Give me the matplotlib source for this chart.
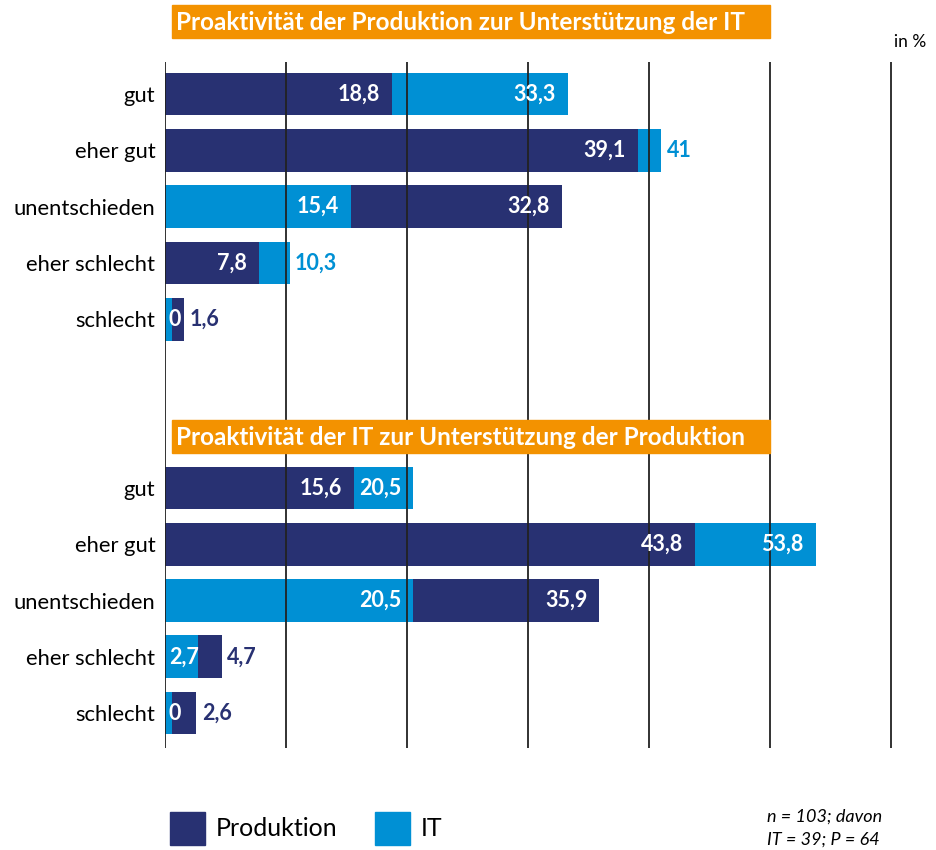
import matplotlib.pyplot as plt
from matplotlib.patches import Rectangle

# Schrift: Lato als Ersatz fuer Calibri
plt.rcParams['font.family'] = ['Lato', 'DejaVu Sans']

# Daten (in %)
kategorien = ['gut', 'eher gut', 'unentschieden', 'eher schlecht', 'schlecht']
prod_oben = [18.8, 39.1, 32.8, 7.8, 1.6]
it_oben = [33.3, 41.0, 15.4, 10.3, 0.0]
prod_unten = [15.6, 43.8, 35.9, 4.7, 2.6]
it_unten = [20.5, 53.8, 20.5, 2.7, 0.0]

titel_oben = 'Proaktivität der Produktion zur Unterstützung der IT'
titel_unten = 'Proaktivität der IT zur Unterstützung der Produktion'
serien = ['Produktion', 'IT']
anmerkung = 'n = 103; davon\nIT = 39; P = 64'

DUNKEL = '#283172'
HELL = '#0090D4'
ORANGE = '#F39200'

W, H = 937, 850
fig = plt.figure(figsize=(W / 100, H / 100), dpi=100)


def fx(px):
    return px / W


def fy(py):
    return 1 - py / H


ax = fig.add_axes([fx(165), fy(748), fx(920) - fx(165), fy(62) - fy(748)])


def fmt(v):
    return f'{v:g}'.replace('.', ',')


WERT_FS = 15.5


def zeichne_block(start, prod, it):
    for i, (p, t) in enumerate(zip(prod, it)):
        y = start + i
        werte = [(p, DUNKEL), (t, HELL)]
        gross, klein = sorted(werte, key=lambda w: w[0], reverse=True)
        # groesserer Balken hinten, kleinerer vorne
        ax.barh(y, max(gross[0], 0.55), height=0.76, color=gross[1], zorder=1)
        ax.barh(y, max(klein[0], 0.55), height=0.76, color=klein[1], zorder=2)

        # Beschriftung kleiner Wert (innen, weiss)
        if klein[0] < 4:
            ax.text(0.3, y, fmt(klein[0]), ha='left', va='center', color='white',
                    fontsize=WERT_FS, fontweight='bold', zorder=5)
        else:
            ax.text(klein[0] - 1.0, y, fmt(klein[0]), ha='right', va='center',
                    color='white', fontsize=WERT_FS, fontweight='bold', zorder=5)

        # Beschriftung grosser Wert
        if gross[0] - klein[0] > 4:
            ax.text(gross[0] - 1.0, y, fmt(gross[0]), ha='right', va='center',
                    color='white', fontsize=WERT_FS, fontweight='bold', zorder=5)
        else:
            ax.text(gross[0] + 0.45, y, fmt(gross[0]), ha='left', va='center',
                    color=gross[1], fontsize=WERT_FS, fontweight='bold', zorder=5)


zeichne_block(0, prod_oben, it_oben)
zeichne_block(7, prod_unten, it_unten)

ax.set_xlim(0, (920 - 165) / 12.1)
ax.set_ylim(11.62, -0.57)

for x in range(0, 61, 10):
    ax.axvline(x, color='#222222', lw=1.3, zorder=3)

pos = list(range(5)) + list(range(7, 12))
ax.set_yticks(pos)
ax.set_yticklabels(kategorien * 2, fontsize=15.8)
ax.tick_params(axis='y', length=0, pad=7)
ax.set_xticks([])
for s in ax.spines.values():
    s.set_visible(False)

# Titelboxen
for titel, top in [(titel_oben, 5), (titel_unten, 420)]:
    fig.patches.append(Rectangle((fx(172), fy(top + 33)), fx(770) - fx(172), 33 / H,
                                 transform=fig.transFigure, color=ORANGE, zorder=0))
    fig.text(fx(176), fy(top + 17), titel, ha='left', va='center', color='white',
             fontsize=17.5, fontweight='bold')

fig.text(fx(926), fy(42), 'in %', ha='right', va='center', fontsize=12.5)

# Legende
for name, farbe, x0 in [(serien[0], DUNKEL, 170), (serien[1], HELL, 375)]:
    fig.patches.append(Rectangle((fx(x0), fy(845)), 35 / W, 33 / H,
                                 transform=fig.transFigure, color=farbe))
    fig.text(fx(x0 + 46), fy(828), name, ha='left', va='center', fontsize=18)

fig.text(fx(767), fy(828), anmerkung, ha='left', va='center', fontsize=13,
         style='italic', linespacing=1.5)

fig.savefig('out.png', dpi=100)
